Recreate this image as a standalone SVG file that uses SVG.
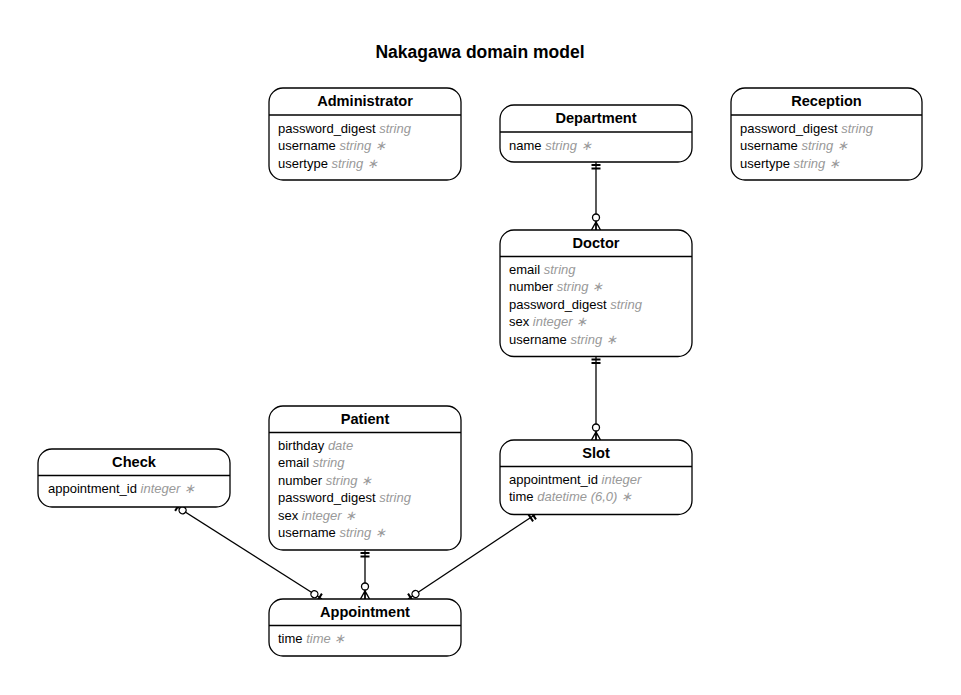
<svg xmlns="http://www.w3.org/2000/svg" width="961" height="695" viewBox="0 0 961 695">
<style>
text{font-family:"Liberation Sans",Arial,sans-serif;}
.title{font-size:17.5px;font-weight:bold;text-anchor:middle;fill:#000;}
.box{fill:#fff;stroke:#000;stroke-width:1.3;}
.sep{stroke:#000;stroke-width:1.3;}
.name{font-size:14.6px;font-weight:bold;text-anchor:middle;fill:#000;}
.attr{font-size:13px;fill:#000;}
.type{font-style:italic;fill:#999;}
.conn{stroke:#000;stroke-width:1.3;fill:none;}
</style>
<defs>
<marker id="oneOnly" markerUnits="userSpaceOnUse" orient="auto-start-reverse" refX="0" refY="0" markerWidth="20" markerHeight="20" viewBox="-15 -10 20 20" overflow="visible">
<path d="M-3,-4.5 L-3,4.5 M-6.5,-4.5 L-6.5,4.5" stroke="#000" stroke-width="2" fill="none"/>
</marker>
<marker id="zeroMany" markerUnits="userSpaceOnUse" orient="auto-start-reverse" refX="0" refY="0" markerWidth="20" markerHeight="20" viewBox="-15 -10 20 20" overflow="visible">
<path d="M0,-4.5 L-8,0 L0,4.5 M0,0 L-8,0" stroke="#000" stroke-width="1.4" fill="none"/>
<circle cx="-12.5" cy="0" r="3.5" fill="#fff" stroke="#000" stroke-width="1.3"/>
</marker>
<marker id="zeroOne" markerUnits="userSpaceOnUse" orient="auto-start-reverse" refX="0" refY="0" markerWidth="20" markerHeight="20" viewBox="-15 -10 20 20" overflow="visible">
<path d="M-3,-4.5 L-3,4.5" stroke="#000" stroke-width="2" fill="none"/>
<circle cx="-9" cy="0" r="3.5" fill="#fff" stroke="#000" stroke-width="1.3"/>
</marker>
</defs>
<rect width="961" height="695" fill="#fff"/>
<text class="title" x="480" y="58">Nakagawa domain model</text>

<g id="connectors">
<line class="conn" x1="596" y1="162" x2="596" y2="230" marker-start="url(#oneOnly)" marker-end="url(#zeroMany)"/>
<line class="conn" x1="596" y1="356.5" x2="596" y2="440" marker-start="url(#oneOnly)" marker-end="url(#zeroMany)"/>
<line class="conn" x1="365" y1="550" x2="365" y2="599" marker-start="url(#oneOnly)" marker-end="url(#zeroMany)"/>
<line class="conn" x1="175" y1="505.5" x2="322" y2="599" marker-start="url(#zeroOne)" marker-end="url(#zeroOne)"/>
<line class="conn" x1="536" y1="514" x2="408" y2="599" marker-start="url(#oneOnly)" marker-end="url(#zeroOne)"/>
</g>

<g id="Administrator" transform="translate(269,88)">
<rect class="box" x="0" y="0" width="192" height="92" rx="14"/>
<line class="sep" x1="0" y1="27" x2="192" y2="27"/>
<text class="name" x="96" y="17.5">Administrator</text>
<text class="attr" x="9" y="45">password_digest <tspan class="type">string</tspan></text>
<text class="attr" x="9" y="62.4">username <tspan class="type">string ∗</tspan></text>
<text class="attr" x="9" y="79.8">usertype <tspan class="type">string ∗</tspan></text>
</g>

<g id="Department" transform="translate(500,105)">
<rect class="box" x="0" y="0" width="192" height="57" rx="14"/>
<line class="sep" x1="0" y1="27" x2="192" y2="27"/>
<text class="name" x="96" y="18">Department</text>
<text class="attr" x="9" y="45">name <tspan class="type">string ∗</tspan></text>
</g>

<g id="Reception" transform="translate(731,88)">
<rect class="box" x="0" y="0" width="191" height="92" rx="14"/>
<line class="sep" x1="0" y1="27" x2="191" y2="27"/>
<text class="name" x="95.5" y="17.5">Reception</text>
<text class="attr" x="9" y="45">password_digest <tspan class="type">string</tspan></text>
<text class="attr" x="9" y="62.4">username <tspan class="type">string ∗</tspan></text>
<text class="attr" x="9" y="79.8">usertype <tspan class="type">string ∗</tspan></text>
</g>

<g id="Doctor" transform="translate(500,230)">
<rect class="box" x="0" y="0" width="192" height="126.5" rx="14"/>
<line class="sep" x1="0" y1="26.5" x2="192" y2="26.5"/>
<text class="name" x="96" y="17.5">Doctor</text>
<text class="attr" x="9" y="44">email <tspan class="type">string</tspan></text>
<text class="attr" x="9" y="61.4">number <tspan class="type">string ∗</tspan></text>
<text class="attr" x="9" y="78.8">password_digest <tspan class="type">string</tspan></text>
<text class="attr" x="9" y="96.2">sex <tspan class="type">integer ∗</tspan></text>
<text class="attr" x="9" y="113.6">username <tspan class="type">string ∗</tspan></text>
</g>

<g id="Patient" transform="translate(269,406)">
<rect class="box" x="0" y="0" width="192" height="144" rx="14"/>
<line class="sep" x1="0" y1="26.5" x2="192" y2="26.5"/>
<text class="name" x="96" y="17.5">Patient</text>
<text class="attr" x="9" y="44">birthday <tspan class="type">date</tspan></text>
<text class="attr" x="9" y="61.4">email <tspan class="type">string</tspan></text>
<text class="attr" x="9" y="78.8">number <tspan class="type">string ∗</tspan></text>
<text class="attr" x="9" y="96.2">password_digest <tspan class="type">string</tspan></text>
<text class="attr" x="9" y="113.6">sex <tspan class="type">integer ∗</tspan></text>
<text class="attr" x="9" y="131">username <tspan class="type">string ∗</tspan></text>
</g>

<g id="Check" transform="translate(38,449)">
<rect class="box" x="0" y="0" width="192" height="58" rx="14"/>
<line class="sep" x1="0" y1="26.5" x2="192" y2="26.5"/>
<text class="name" x="96" y="17.5">Check</text>
<text class="attr" x="10" y="44">appointment_id <tspan class="type">integer ∗</tspan></text>
</g>

<g id="Slot" transform="translate(500,440)">
<rect class="box" x="0" y="0" width="192" height="74.5" rx="14"/>
<line class="sep" x1="0" y1="26.5" x2="192" y2="26.5"/>
<text class="name" x="96" y="17.5">Slot</text>
<text class="attr" x="9" y="44">appointment_id <tspan class="type">integer</tspan></text>
<text class="attr" x="9" y="61.4">time <tspan class="type">datetime (6,0) ∗</tspan></text>
</g>

<g id="Appointment" transform="translate(269,599)">
<rect class="box" x="0" y="0" width="192" height="57" rx="14"/>
<line class="sep" x1="0" y1="26.5" x2="192" y2="26.5"/>
<text class="name" x="96" y="17.5">Appointment</text>
<text class="attr" x="9" y="44">time <tspan class="type">time ∗</tspan></text>
</g>
</svg>
